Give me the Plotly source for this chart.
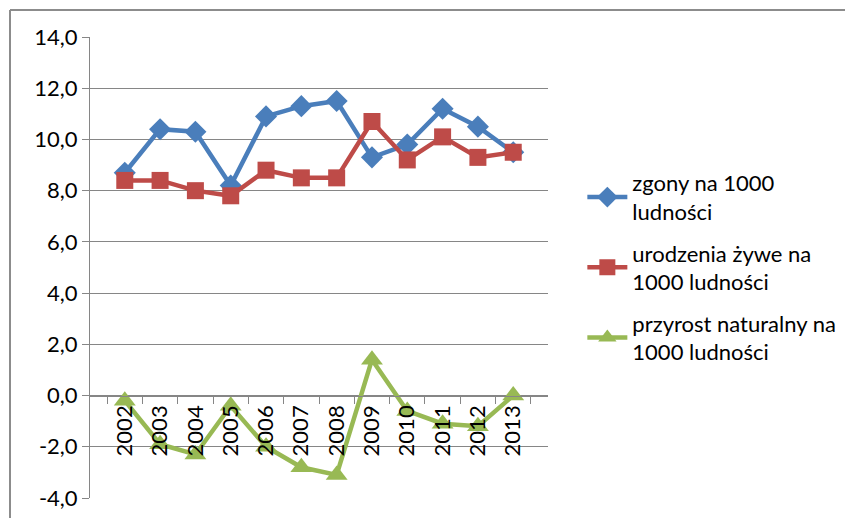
import plotly.graph_objects as go

years = ["2002", "2003", "2004", "2005", "2006", "2007", "2008", "2009", "2010", "2011", "2012", "2013"]
zgony = [8.7, 10.4, 10.3, 8.2, 10.9, 11.3, 11.5, 9.3, 9.8, 11.2, 10.5, 9.5]
urodzenia = [8.4, 8.4, 8.0, 7.8, 8.8, 8.5, 8.5, 10.7, 9.2, 10.1, 9.3, 9.5]
przyrost = [-0.2, -1.9, -2.3, -0.4, -2.0, -2.8, -3.1, 1.4, -0.6, -1.1, -1.2, 0.0]

y_tick_vals = [-4, -2, 0, 2, 4, 6, 8, 10, 12, 14]
y_tick_text = ["-4,0", "-2,0", "0,0", "2,0", "4,0", "6,0", "8,0", "10,0", "12,0", "14,0"]

names = ["zgony na 1000<br>ludności", "urodzenia żywe na<br>1000 ludności", "przyrost naturalny na<br>1000 ludności"]
colors = ["#4A7EBB", "#BE4B48", "#98B954"]
symbols = ["diamond", "square", "triangle-up"]
sizes = [17, 17, 19]
series = [zgony, urodzenia, przyrost]

fig = go.Figure()
for i, s in enumerate(series):
    fig.add_trace(go.Scatter(
        x=years, y=s, name=names[i], mode="lines+markers",
        line=dict(color=colors[i], width=4.5),
        marker=dict(symbol=symbols[i], size=sizes[i], color=colors[i]),
        legendgroup=f"g{i}",
    ))

font = "Lato, Liberation Sans, Arial, sans-serif"
fig.update_layout(
    width=853, height=518,
    margin=dict(l=82, r=313, t=29, b=28, autoexpand=False),
    paper_bgcolor="white", plot_bgcolor="white",
    font=dict(family=font, size=22, color="#000000"),
    showlegend=True,
    legend=dict(x=1.075, xanchor="left", y=0.5, yanchor="middle",
                font=dict(size=22), tracegroupgap=10, itemwidth=40,
                bgcolor="rgba(0,0,0,0)"),
    xaxis=dict(type="category", anchor="free", position=4/18,
               showgrid=False, showline=True, linecolor="#868686", linewidth=1,
               ticks="outside", tickson="boundaries", ticklen=7, tickcolor="#868686",
               tickangle=-90, tickfont=dict(size=22), zeroline=False),
    yaxis=dict(range=[-4, 14], tickmode="array", tickvals=y_tick_vals, ticktext=y_tick_text,
               showgrid=True, gridcolor="#868686", gridwidth=1,
               showline=True, linecolor="#868686", linewidth=1,
               ticks="outside", ticklen=7, tickcolor="#868686",
               zeroline=False, tickfont=dict(size=22)),
    shapes=[
        dict(type="line", xref="paper", yref="paper", x0=-80/458, x1=1.8, y0=488/461, y1=488/461,
             line=dict(color="#8C8C8C", width=2)),
        dict(type="line", xref="paper", yref="paper", x0=-80/458, x1=-80/458, y0=488/461, y1=-0.2,
             line=dict(color="#8C8C8C", width=2)),
    ],
)

fig.write_html("out.html")
